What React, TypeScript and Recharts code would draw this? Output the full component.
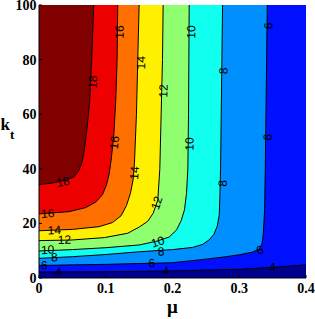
import { Area, ComposedChart, Label, Scatter, XAxis, YAxis } from "recharts";

const W = 315;
const H = 319;
const M = { top: 5, right: 9, bottom: 11, left: 9 };
const Y_W = 30;
const X_H = 30;
const PLOT_W = W - M.left - M.right - Y_W;
const PLOT_H = H - M.top - M.bottom - X_H;

const MU_TICKS = [0, 0.1, 0.2, 0.3, 0.4];
const K_TICKS = [0, 20, 40, 60, 80, 100];

// band fills, lowest first (jet)
const BAND_COLORS = ["#00008F", "#0010FF", "#008FFF", "#10FFEF", "#8FFF70", "#FFEF00", "#FF7000", "#EF0000", "#800000"];

// floor of the plot (below the 4 line)
const floor = [[0, 0], [0.4, 0]];

// contour lines, [mu, kt], ordered by mu
const c4 = [[0, 2.2], [0.1, 2.3], [0.2, 2.6], [0.25, 2.9], [0.3, 3.2], [0.35, 3.9], [0.4, 4.8]];
const c6 = [[0, 4.6], [0.1, 5.0], [0.2, 5.6], [0.25, 6.9], [0.28, 7.8], [0.3, 8.5], [0.32, 9.5], [0.33, 10.6], [0.334, 12.5], [0.336, 16], [0.338, 25], [0.339, 40], [0.34, 60], [0.341, 80], [0.342, 100]];
const c8 = [[0, 7.2], [0.05, 7.8], [0.1, 8.6], [0.15, 9.6], [0.2, 10.4], [0.23, 11.2], [0.245, 12.3], [0.255, 14], [0.262, 16], [0.267, 19], [0.27, 23], [0.271, 30], [0.272, 40], [0.273, 60], [0.274, 80], [0.275, 100]];
const c10 = [[0, 9.9], [0.05, 10.4], [0.1, 11.1], [0.15, 12.1], [0.175, 13.4], [0.195, 15], [0.206, 17.6], [0.213, 21], [0.218, 25], [0.221, 31], [0.223, 40], [0.224, 60], [0.2245, 80], [0.225, 100]];
const c12 = [[0, 13.7], [0.048, 13.9], [0.098, 14.8], [0.133, 16.4], [0.151, 18.8], [0.163, 20.8], [0.171, 23.7], [0.178, 28.6], [0.181, 40], [0.183, 60], [0.185, 80], [0.186, 100]];
const c14 = [[0, 17.3], [0.05, 17.8], [0.09, 18.8], [0.11, 20.3], [0.123, 22.8], [0.131, 26.5], [0.137, 31], [0.141, 36], [0.143, 42], [0.146, 60], [0.148, 80], [0.15, 100]];
const c16 = [[0, 23.5], [0.045, 24.3], [0.07, 25.8], [0.085, 27.8], [0.095, 30.5], [0.101, 34], [0.105, 38], [0.108, 43], [0.112, 52], [0.115, 65], [0.117, 80], [0.118, 100]];
const c18 = [[0, 34.2], [0.02, 34.8], [0.04, 35.8], [0.052, 37], [0.059, 39], [0.064, 42], [0.068, 47], [0.072, 55], [0.076, 65], [0.079, 80], [0.082, 100]];

const LEVELS = [4, 6, 8, 10, 12, 14, 16, 18];
const CONTOURS = [c4, c6, c8, c10, c12, c14, c16, c18];

// contour labels: [level, mu, kt]
const labels = [
  [18, 0.0806, 71.8], [18, 0.036, 35.2],
  [16, 0.1206, 90.1], [16, 0.113, 49.6], [16, 0.013, 23.6],
  [14, 0.153, 78.9], [14, 0.143, 38.5], [14, 0.023, 17.5],
  [12, 0.1865, 68.5], [12, 0.1765, 27.5], [12, 0.038, 14],
  [10, 0.228, 90.1], [10, 0.2255, 49.1], [10, 0.178, 13.2], [10, 0.013, 10.3],
  [8, 0.2764, 75.9], [8, 0.2754, 34.7], [8, 0.183, 9.7], [8, 0.023, 7.6],
  [6, 0.3438, 92.4], [6, 0.3428, 51.5], [6, 0.331, 10.2], [6, 0.169, 5.4], [6, 0.008, 4.6],
  [4, 0.35, 3.9], [4, 0.19, 2.6], [4, 0.029, 2.2],
];

const toPts = (a: number[][]) => a.map(([mu, k]) => ({ mu, k }));
const labelPts = labels.map(([level, mu, k]) => ({ level, mu, k }));

const SX = PLOT_W / 0.4;
const SY = PLOT_H / 100;

// text angle follows the local direction of its contour, in pixel space
function labelAngle(level: number, mu: number, k: number) {
  const pts = CONTOURS[LEVELS.indexOf(level)];
  const px = mu * SX;
  const py = -k * SY;
  let best = Infinity;
  let ang = 0;
  for (let i = 0; i < pts.length - 1; i++) {
    const ax = pts[i][0] * SX, ay = -pts[i][1] * SY;
    const bx = pts[i + 1][0] * SX, by = -pts[i + 1][1] * SY;
    const dx = bx - ax, dy = by - ay;
    const len2 = dx * dx + dy * dy || 1;
    const t = Math.max(0, Math.min(1, ((px - ax) * dx + (py - ay) * dy) / len2));
    const d = Math.hypot(ax + t * dx - px, ay + t * dy - py);
    if (d < best) {
      best = d;
      ang = (Math.atan2(dy, dx) * 180) / Math.PI;
    }
  }
  if (ang < -90) ang += 180;
  if (ang > 90) ang -= 180;
  return ang;
}

const ContourLabel = (props: any) => {
  const { cx, cy, payload } = props;
  if (cx == null || cy == null) return null;
  const a = labelAngle(payload.level, payload.mu, payload.k);
  return (
    <text
      x={cx}
      y={cy}
      textAnchor="middle"
      dominantBaseline="central"
      transform={`rotate(${a.toFixed(1)} ${cx} ${cy})`}
      fontSize={12}
      fontFamily="Liberation Sans, Arial, sans-serif"
      fill="#000"
    >
      {payload.level}
    </text>
  );
};

const tickFont = { fontFamily: "Liberation Serif, Times New Roman, serif", fontWeight: "bold", fontSize: 14, fill: "#000" };

const MuTitle = (p: any) => {
  const vb = p.viewBox;
  if (!vb) return null;
  return (
    <text x={vb.x + vb.width / 2} y={vb.y + 35} textAnchor="middle" fontFamily="Liberation Serif, serif" fontWeight="bold" fontSize={19} fill="#000">
      μ
    </text>
  );
};

const KtTitle = (p: any) => {
  const vb = p.viewBox;
  if (!vb) return null;
  const x = vb.x - 8.5;
  const y = vb.y + 125;
  return (
    <text x={x} y={y} fontFamily="Liberation Serif, serif" fontWeight="bold" fontSize={17} fill="#000">
      k
      <tspan fontSize={13} dy={9}>t</tspan>
    </text>
  );
};

export default function App() {
  return (
    <div style={{ position: "absolute", left: 0, top: 0, width: W, height: H, background: "#fff" }}>
      <ComposedChart width={W} height={H} margin={M}>
        <XAxis
          dataKey="mu"
          type="number"
          domain={[0, 0.4]}
          ticks={MU_TICKS}
          interval={0}
          allowDataOverflow
          height={X_H}
          tickSize={-3}
          tickMargin={8.5}
          tick={tickFont}
          axisLine={{ stroke: "#000" }}
          tickLine={{ stroke: "#000" }}
        >
          <Label content={MuTitle} />
        </XAxis>
        <XAxis
          xAxisId="top"
          orientation="top"
          dataKey="mu"
          type="number"
          domain={[0, 0.4]}
          ticks={MU_TICKS}
          interval={0}
          allowDataOverflow
          height={0}
          tickSize={-3}
          tickFormatter={() => ""}
          axisLine={{ stroke: "#000" }}
          tickLine={{ stroke: "#000" }}
        />
        <YAxis
          type="number"
          domain={[0, 100]}
          ticks={K_TICKS}
          interval={0}
          allowDataOverflow
          width={Y_W}
          tickSize={-3}
          tickMargin={5.5}
          tick={tickFont}
          axisLine={{ stroke: "#000" }}
          tickLine={{ stroke: "#000" }}
        >
          <Label content={KtTitle} />
        </YAxis>
        <YAxis
          yAxisId="right"
          orientation="right"
          type="number"
          domain={[0, 100]}
          ticks={K_TICKS}
          interval={0}
          allowDataOverflow
          width={0}
          tickSize={-3}
          tickFormatter={() => ""}
          axisLine={{ stroke: "#000" }}
          tickLine={{ stroke: "#000" }}
        />

        <Area
          data={toPts(floor)}
          dataKey="k"
          type="linear"
          baseValue={100}
          fill={BAND_COLORS[0]}
          fillOpacity={1}
          stroke="none"
          dot={false}
          activeDot={false}
          isAnimationActive={false}
        />
        {CONTOURS.map((c, i) => (
          <Area
            key={LEVELS[i]}
            data={toPts(c)}
            dataKey="k"
            type="linear"
            baseValue={100}
            fill={BAND_COLORS[i + 1]}
            fillOpacity={1}
            stroke="#000"
            strokeWidth={1}
            dot={false}
            activeDot={false}
            isAnimationActive={false}
          />
        ))}
        <Scatter data={labelPts} dataKey="k" shape={ContourLabel} isAnimationActive={false} />
      </ComposedChart>
    </div>
  );
}
